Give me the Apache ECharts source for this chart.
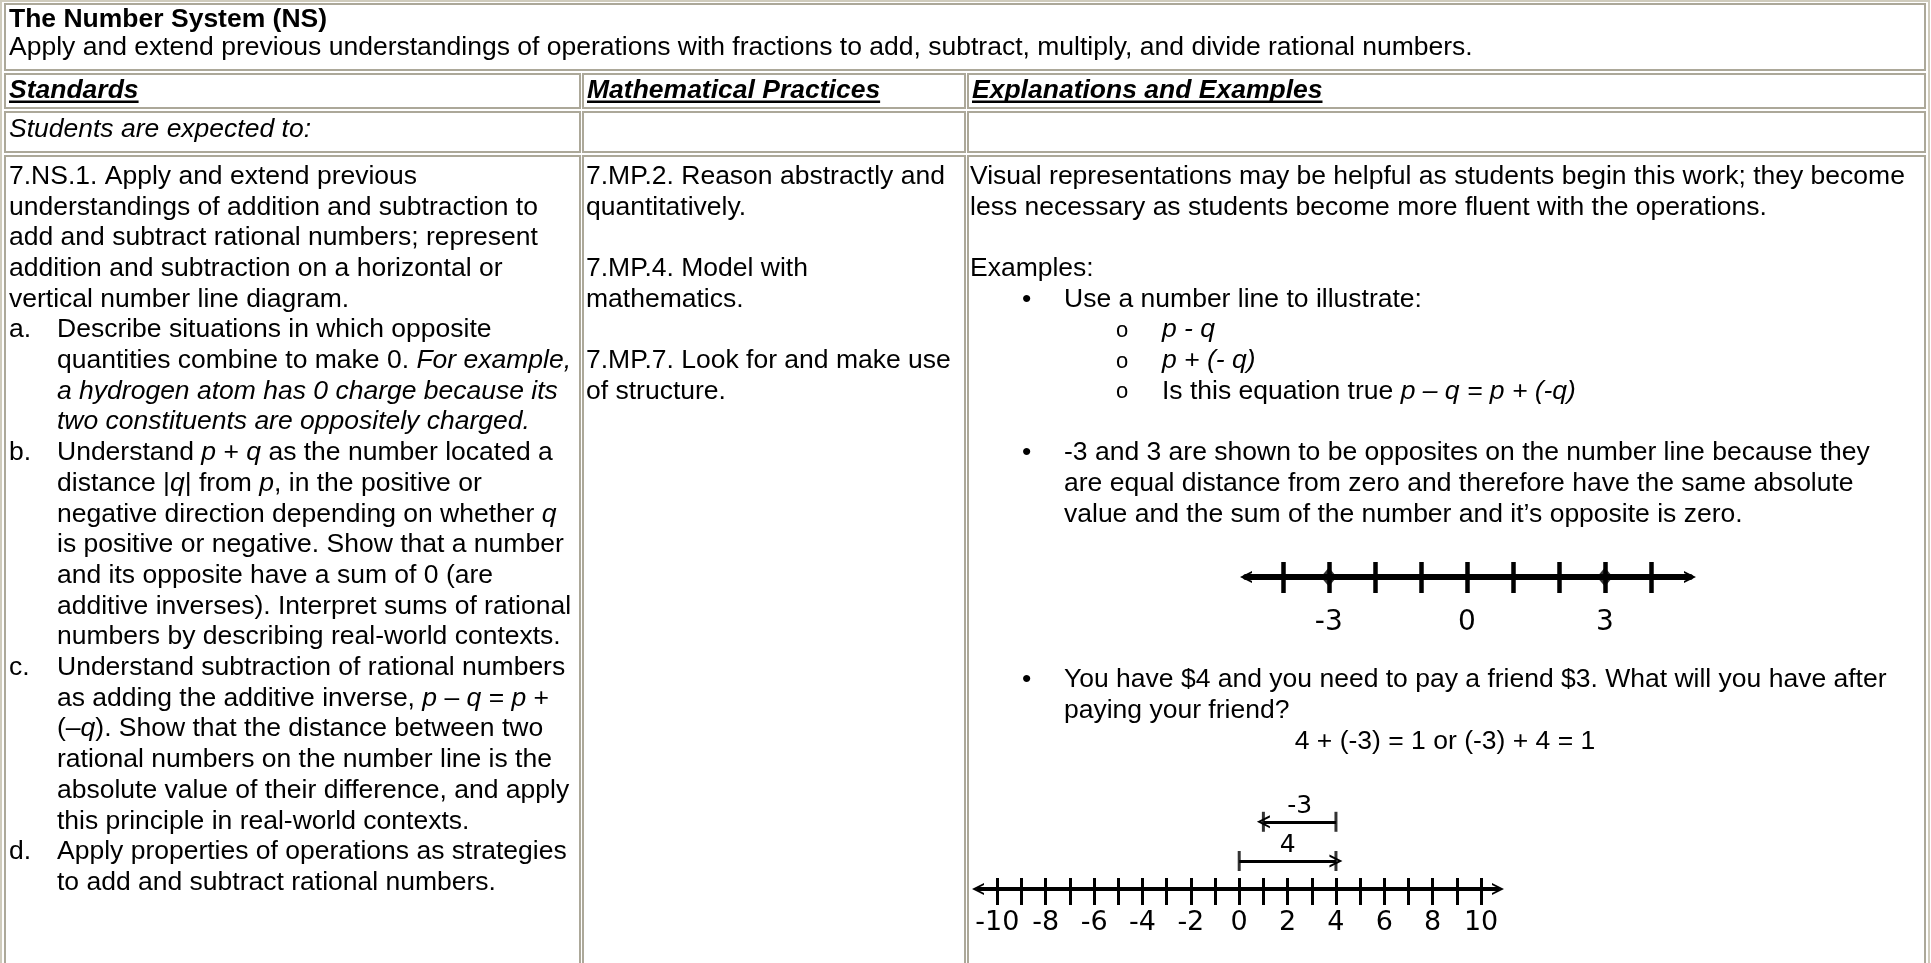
<!DOCTYPE html>
<html>
<head>
<meta charset="utf-8">
<script src="https://cdn.jsdelivr.net/npm/echarts@6/dist/echarts.min.js"></script>
<style>
  html, body { margin: 0; padding: 0; background: #fff; }
  #main { width: 1931px; height: 963px; }
</style>
</head>
<body>
<div id="main"></div>
<script>
// number line 1: -3 and 3 are opposites
var oppTicks = [-4, -3, -2, -1, 0, 1, 2, 3, 4]
var oppLabels = [-3, 0, 3]
var oppPoints = [-3, 3]

// number line 2: 4 + (-3) = 1
var sumTicks = [-10, -9, -8, -7, -6, -5, -4, -3, -2, -1, 0, 1, 2, 3, 4, 5, 6, 7, 8, 9, 10]
var sumLabels = [-10, -8, -6, -4, -2, 0, 2, 4, 6, 8, 10]
var jumpFrom = [0, 4]
var jumpTo = [4, 1]
var jumpText = ['4', '-3']
var jumpLevel = [1, 2.4]

// table texts
var titleText = 'The Number System (NS)'
var subtitleText = 'Apply and extend previous understandings of operations with fractions to add, subtract, multiply, and divide rational numbers.'
var headers = ['Standards', 'Mathematical Practices', 'Explanations and Examples']
var studentsText = 'Students are expected to:'

// [label, text]; label null = no indent, '' = indented continuation
var standards = [
  [null, '7.NS.1. Apply and extend previous'],
  [null, 'understandings of addition and subtraction to'],
  [null, 'add and subtract rational numbers; represent'],
  [null, 'addition and subtraction on a horizontal or'],
  [null, 'vertical number line diagram.'],
  ['a.', 'Describe situations in which opposite'],
  ['', 'quantities combine to make 0. {i|For example,}'],
  ['', '{i|a hydrogen atom has 0 charge because its}'],
  ['', '{i|two constituents are oppositely charged.}'],
  ['b.', 'Understand {i|p} + {i|q} as the number located a'],
  ['', 'distance |{i|q}| from {i|p}, in the positive or'],
  ['', 'negative direction depending on whether {i|q}'],
  ['', 'is positive or negative. Show that a number'],
  ['', 'and its opposite have a sum of 0 (are'],
  ['', 'additive inverses). Interpret sums of rational'],
  ['', 'numbers by describing real-world contexts.'],
  ['c.', 'Understand subtraction of rational numbers'],
  ['', 'as adding the additive inverse, {i|p} – {i|q} = {i|p} +'],
  ['', '(–{i|q}). Show that the distance between two'],
  ['', 'rational numbers on the number line is the'],
  ['', 'absolute value of their difference, and apply'],
  ['', 'this principle in real-world contexts.'],
  ['d.', 'Apply properties of operations as strategies'],
  ['', 'to add and subtract rational numbers.']
]

var practices = [
  '7.MP.2. Reason abstractly and',
  'quantitatively.',
  '',
  '7.MP.4. Model with',
  'mathematics.',
  '',
  '7.MP.7. Look for and make use',
  'of structure.'
]

// [kind, text]  kind: p = plain, b = bullet, s = sub bullet, c = bullet continuation
var explain = [
  ['p', 'Visual representations may be helpful as students begin this work; they become'],
  ['p', 'less necessary as students become more fluent with the operations.'],
  ['p', ''],
  ['p', 'Examples:'],
  ['b', 'Use a number line to illustrate:'],
  ['s', '{i|p - q}'],
  ['s', '{i|p + (- q)}'],
  ['s', 'Is this equation true {i|p – q = p + (-q)}'],
  ['p', ''],
  ['b', '-3 and 3 are shown to be opposites on the number line because they'],
  ['c', 'are equal distance from zero and therefore have the same absolute'],
  ['c', 'value and the sum of the number and it’s opposite is zero.']
]
var payText = [
  'You have $4 and you need to pay a friend $3. What will you have after',
  'paying your friend?'
]
var payEquation = '4 + (-3) = 1 or (-3) + 4 = 1'

var FAM = '"Liberation Sans", Arial, sans-serif'
var NUMFAM = '"DejaVu Sans", Verdana, sans-serif'
var SZ = 26.5
var fNormal = SZ + 'px ' + FAM
var fItalic = 'italic ' + SZ + 'px ' + FAM
var fBold = 'bold ' + SZ + 'px ' + FAM
var fBoldItalic = 'italic bold ' + SZ + 'px ' + FAM
var LH = 30.7
var firstLine = 176.5

var measure = document.createElement('canvas').getContext('2d')
function textWidth(s, font) {
  measure.font = font
  return measure.measureText(s).width
}

function txt(x, y, s, font, align) {
  return {
    type: 'text', x: x, y: y, silent: true,
    style: {
      text: s, font: font || fNormal, fill: '#000',
      align: align || 'left', textAlign: align || 'left',
      verticalAlign: 'middle', textVerticalAlign: 'middle',
      rich: { i: { font: fItalic, fill: '#000' } }
    }
  }
}

function cell(x1, y1, x2, y2) {
  return {
    type: 'rect', silent: true,
    shape: { x: x1, y: y1, width: x2 - x1, height: y2 - y1 },
    style: { fill: 'none', stroke: '#aca899', lineWidth: 2 }
  }
}

var colX = [[5, 580], [583, 965], [968, 1925]]
var rowY = [[74, 108], [112, 152], [156, 990]]

var graphics = []
graphics.push({
  type: 'rect', silent: true,
  shape: { x: 1, y: 1, width: 1928, height: 995 },
  style: { fill: 'none', stroke: '#cfcbbc', lineWidth: 2 }
})
graphics.push(cell(5, 4, 1925, 70))
rowY.forEach(function (r) {
  colX.forEach(function (c) { graphics.push(cell(c[0], r[0], c[1], r[1])) })
})

graphics.push(txt(9, 20, titleText, fBold))
graphics.push(txt(9, 48, subtitleText))

headers.forEach(function (h, i) {
  var x = colX[i][0] + 4
  graphics.push(txt(x, 91, h, fBoldItalic))
  graphics.push({
    type: 'rect', silent: true,
    shape: { x: x, y: 100.5, width: textWidth(h, fBoldItalic), height: 2.5 },
    style: { fill: '#000' }
  })
})
graphics.push(txt(9, 130, studentsText, fItalic))

standards.forEach(function (row, i) {
  var y = firstLine + i * LH
  if (row[0] === null) {
    graphics.push(txt(9, y, row[1]))
  } else {
    if (row[0]) graphics.push(txt(9, y, row[0]))
    graphics.push(txt(57, y, row[1]))
  }
})

practices.forEach(function (s, i) {
  if (s) graphics.push(txt(586, firstLine + i * LH, s))
})

explain.forEach(function (row, i) {
  var y = firstLine + i * LH
  if (!row[1]) return
  if (row[0] === 'p') graphics.push(txt(970, y, row[1]))
  if (row[0] === 'b') {
    graphics.push(txt(1022, y, '•'))
    graphics.push(txt(1064, y, row[1]))
  }
  if (row[0] === 'c') graphics.push(txt(1064, y, row[1]))
  if (row[0] === 's') {
    graphics.push(txt(1116, y + 1, 'o', '22px ' + FAM))
    graphics.push(txt(1162, y, row[1]))
  }
})

graphics.push(txt(1022, 680, '•'))
graphics.push(txt(1064, 680, payText[0]))
graphics.push(txt(1064, 711, payText[1]))
graphics.push(txt(1445, 742, payEquation, fNormal, 'center'))

var chevron = 'path://M0,12 L6,0 L12,12 L10,12 L6,4 L2,12 Z'

var lineAxis = function (grid, min, max, width, ticks, tickUp, tickW) {
  return {
    type: 'value', gridIndex: grid, min: min, max: max, position: 'bottom',
    axisLine: {
      show: true, onZero: false,
      symbol: [chevron, chevron], symbolSize: [12, 16],
      lineStyle: { color: '#000', width: width }
    },
    axisTick: { show: true, inside: true, length: tickUp, customValues: ticks, lineStyle: { color: '#000', width: tickW } },
    axisLabel: { show: false },
    splitLine: { show: false }
  }
}
var labelAxis = function (grid, min, max, ticks, tickDown, tickW, labels, margin, size) {
  return {
    type: 'value', gridIndex: grid, min: min, max: max, position: 'bottom',
    axisLine: { show: false, onZero: false },
    axisTick: { show: true, inside: false, length: tickDown, customValues: ticks, lineStyle: { color: '#000', width: tickW } },
    axisLabel: {
      show: true, customValues: labels, margin: margin,
      color: '#000', fontSize: size, fontFamily: NUMFAM
    },
    splitLine: { show: false }
  }
}

var jumpEnds = []
jumpFrom.forEach(function (v, i) {
  jumpEnds.push([v, jumpLevel[i]])
  jumpEnds.push([jumpTo[i], jumpLevel[i]])
})

var option = {
  backgroundColor: '#fff',
  animation: false,
  grid: [
    { left: 1246, top: 539, width: 444, height: 38 },
    { left: 978, top: 805, width: 520, height: 84 }
  ],
  xAxis: [
    lineAxis(0, -4.8, 4.85, 6, oppTicks, 15, 4.5),
    labelAxis(0, -4.8, 4.85, oppTicks, 16, 4.5, oppLabels, 32, 28),
    lineAxis(1, -10.8, 10.7, 4, sumTicks, 11, 3),
    labelAxis(1, -10.8, 10.7, sumTicks, 16, 3, sumLabels, 20, 27)
  ],
  yAxis: [
    { type: 'value', gridIndex: 0, min: 0, max: 1, show: false },
    { type: 'value', gridIndex: 1, min: 0, max: 3, show: false }
  ],
  series: [
    {
      type: 'scatter', xAxisIndex: 0, yAxisIndex: 0, clip: false, silent: true,
      symbol: 'diamond', symbolSize: [16, 19],
      itemStyle: { color: '#000' },
      data: oppPoints.map(function (v) { return [v, 0] })
    },
    {
      type: 'scatter', xAxisIndex: 2, yAxisIndex: 1, clip: false, silent: true,
      symbol: 'rect', symbolSize: [3, 20],
      itemStyle: { color: '#000' },
      data: jumpEnds
    },
    {
      type: 'lines', coordinateSystem: 'cartesian2d', xAxisIndex: 2, yAxisIndex: 1,
      silent: true, clip: false,
      symbol: ['none', chevron], symbolSize: [11, 13],
      lineStyle: { color: '#000', width: 3, opacity: 1, curveness: 0 },
      label: {
        show: true, position: 'middle', formatter: '{b}', distance: 3,
        color: '#000', fontSize: 25, fontFamily: NUMFAM
      },
      data: jumpFrom.map(function (v, i) {
        return { name: jumpText[i], coords: [[v, jumpLevel[i]], [jumpTo[i], jumpLevel[i]]] }
      })
    }
  ],
  graphic: { elements: graphics }
}

var myChart = echarts.init(document.getElementById('main'), null, { renderer: 'canvas' })
myChart.setOption(option)
</script>
</body>
</html>
